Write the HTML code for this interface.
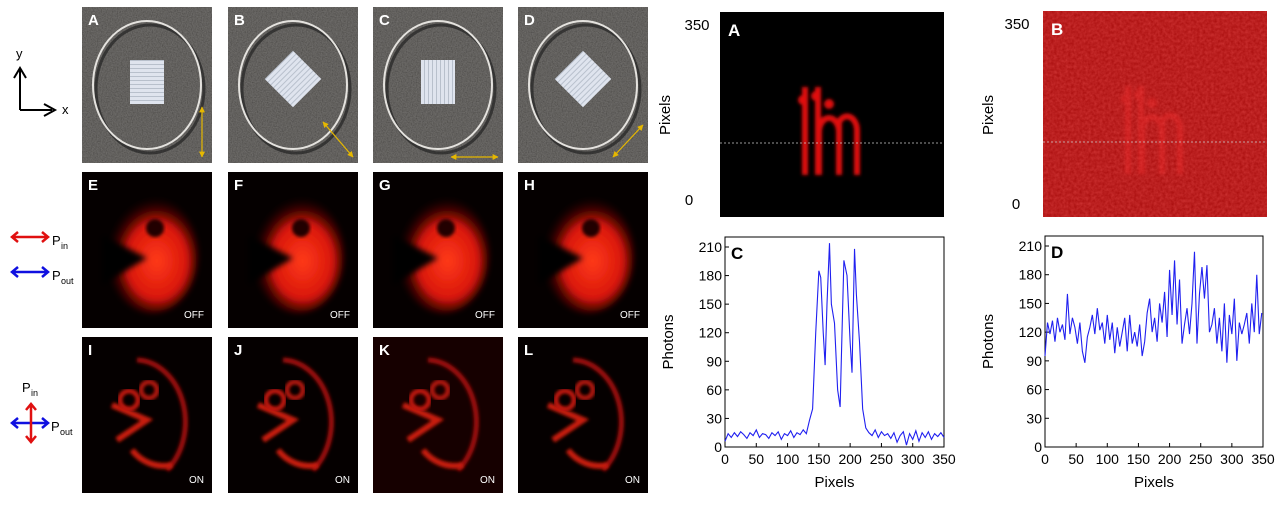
<!DOCTYPE html>
<html><head><meta charset="utf-8"><style>
body{margin:0;background:#fff;width:1281px;height:502px;overflow:hidden;font-family:"Liberation Sans",sans-serif}
svg text{font-family:"Liberation Sans",sans-serif}
</style></head><body>
<svg id="fig" width="1281" height="502" viewBox="0 0 1281 502" xmlns="http://www.w3.org/2000/svg">
<defs>
<filter id="noise" x="0" y="0" width="100%" height="100%"><feTurbulence type="fractalNoise" baseFrequency="0.8" numOctaves="2" seed="3"/><feColorMatrix type="matrix" values="0.5 0 0 0 0 0.5 0 0 0 0 0.5 0 0 0 0 0 0 0 0 0.35"/></filter>
<filter id="rnoise" x="0" y="0" width="100%" height="100%"><feTurbulence type="fractalNoise" baseFrequency="0.35" numOctaves="2" seed="7"/><feColorMatrix type="matrix" values="0 0 0 0 0.9 0 0 0 0 0.1 0 0 0 0 0.1 0 0 0 0.5 0"/></filter>
<filter id="blur3"><feGaussianBlur stdDeviation="3"/></filter>
<filter id="blur1"><feGaussianBlur stdDeviation="1.5"/></filter>
<radialGradient id="pac" cx="0.55" cy="0.55" r="0.55"><stop offset="0" stop-color="#ff3a1a"/><stop offset="0.6" stop-color="#d8160a"/><stop offset="1" stop-color="#300000" stop-opacity="0"/></radialGradient>
<pattern id="stripesH" width="4" height="4" patternUnits="userSpaceOnUse"><rect width="4" height="4" fill="#dfe4ee"/><rect width="4" height="1" fill="#b8c0cc"/></pattern>
<pattern id="stripesV" width="4" height="4" patternUnits="userSpaceOnUse"><rect width="4" height="4" fill="#dfe4ee"/><rect width="1" height="4" fill="#b8c0cc"/></pattern>
<marker id="ya" viewBox="0 0 10 10" refX="9" refY="5" markerWidth="5" markerHeight="5" orient="auto-start-reverse"><path d="M0 0 L10 5 L0 10 Z" fill="#e6b800"/></marker>
</defs>
<g id="left"></g>
<g id="right"></g>
</svg>
<script>
const NS='http://www.w3.org/2000/svg';
const cX=[0,5,10,15,20,25,30,35,40,45,50,55,60,65,70,75,80,85,90,95,100,105,110,115,120,125,130,135,140,145,150,153,157,160,163,167,170,175,180,184,187,190,195,200,203,207,210,215,220,225,230,235,240,245,250,255,260,265,270,275,280,285,290,295,300,305,310,315,320,325,330,335,340,345,350];
const cY=[6,14,10,15,11,16,13,9,15,12,18,10,14,13,9,15,12,16,8,14,12,17,10,15,13,18,14,28,40,120,185,178,120,86,150,214,150,130,60,42,120,196,180,110,78,208,160,110,40,20,15,12,18,10,16,12,14,9,15,5,12,16,2,14,8,17,6,15,10,16,8,14,11,15,10];
const dX=[];for(let i=0;i<=350;i+=4)dX.push(i);
const dY=[95,130,118,132,110,135,120,128,112,160,118,135,125,108,130,100,88,115,125,138,118,145,122,130,108,138,112,130,98,125,105,120,135,100,138,108,120,105,128,95,110,140,155,120,135,110,150,130,162,115,185,138,195,128,175,108,128,145,118,150,204,108,160,188,155,190,120,128,145,108,135,100,150,88,138,118,155,90,130,118,128,140,108,150,120,180,118,140,108];
const xTicks=[0,50,100,150,200,250,300,350];
const yTicks=[0,30,60,90,120,150,180,210];
const panelLetters=['A','B','C','D','E','F','G','H','I','J','K','L'];
const L=document.getElementById('left'),R=document.getElementById('right');
function el(p,t,a,txt){const e=document.createElementNS(NS,t);for(const k in a)e.setAttribute(k,a[k]);if(txt!==undefined)e.textContent=txt;p.appendChild(e);return e;}

const colX=[82,228,373,518],rowY=[7,172,337],pw=130,ph=156;
const rots=[0,45,0,45],sq=['stripesH','stripesV','stripesV','stripesV'];
const arrows=[[120,100,120,150],[95,115,125,150],[78,150,125,150],[95,150,125,118]];
for(let r=0;r<3;r++)for(let c=0;c<4;c++){
 const x=colX[c],y=rowY[r];
 const g=el(L,'g',{});
 
 
 const cx=x+pw/2,cy=y+ph/2;
 if(r===0){
  el(g,'rect',{x,y,width:pw,height:ph,fill:'#4e4b47'});
  el(g,'rect',{x,y,width:pw,height:ph,filter:'url(#noise)'});
  el(g,'ellipse',{cx:cx+3,cy:cy+4,rx:54,ry:64,fill:'none',stroke:'#222','stroke-width':3,opacity:.7});
  el(g,'ellipse',{cx:cx,cy:cy,rx:54,ry:64,fill:'none',stroke:'#e4e2de','stroke-width':2});
  if(rots[c]===0) el(g,'rect',{x:cx-17,y:cy-25,width:34,height:44,fill:'url(#'+sq[c]+')'});
  else el(g,'rect',{x:-20,y:-20,width:40,height:40,fill:'url(#'+sq[c]+')',transform:`translate(${cx},${cy-6}) rotate(45)`});
  const a=arrows[c];
  el(g,'line',{x1:x+a[0],y1:y+a[1],x2:x+a[2],y2:y+a[3],stroke:'#e6b800','stroke-width':1.2,'marker-start':'url(#ya)','marker-end':'url(#ya)'});
 } else {
  el(g,'rect',{x,y,width:pw,height:ph,fill:r===2&&c===2?'#160000':'#050000'});
  if(r===1){
   el(g,'ellipse',{cx:cx+5,cy:cy+5,rx:46,ry:58,fill:'url(#pac)',filter:'url(#blur3)'});
   el(g,'path',{d:`M${cx-45} ${cy-15} L${cx} ${cy+8} L${cx-45} ${cy+35} Z`,fill:'#050000',filter:'url(#blur3)'});
   el(g,'circle',{cx:cx+8,cy:cy-22,r:9,fill:'#200000',filter:'url(#blur1)'});
   el(g,'text',{x:x+pw-8,y:y+ph-10,'text-anchor':'end',fill:'#fff','font-size':10},'OFF');
  } else {
   el(g,'path',{d:`M${cx-10} ${cy-55} A50 62 0 0 1 ${cx+20} ${cy+55}`,fill:'none',stroke:'#a01008','stroke-width':5,filter:'url(#blur1)'});
   el(g,'path',{d:`M${cx-35} ${cy-10} L${cx} ${cy+5} L${cx-30} ${cy+25} M${cx-15} ${cy+35} A40 40 0 0 0 ${cx+25} ${cy+50}`,fill:'none',stroke:'#c81a0c','stroke-width':6,filter:'url(#blur1)'});
   el(g,'circle',{cx:cx-18,cy:cy-15,r:9,fill:'none',stroke:'#c01408','stroke-width':5,filter:'url(#blur1)'});
   el(g,'circle',{cx:cx+2,cy:cy-25,r:8,fill:'none',stroke:'#b01208','stroke-width':5,filter:'url(#blur1)'});
   el(g,'text',{x:x+pw-8,y:y+ph-10,'text-anchor':'end',fill:'#fff','font-size':10},'ON');
  }
 }
 const t=el(g,'text',{x:x+6,y:y+18,fill:'#fff','font-size':15,'font-weight':'bold'},panelLetters[r*4+c]);
 
 
}
const ax=el(L,'g',{});


el(ax,'path',{d:'M20 110 V70 M14 78 L20 68 L26 78 M20 110 H52 M44 104 L55 110 L44 116',fill:'none',stroke:'#000','stroke-width':2});
el(ax,'text',{x:16,y:58,'font-size':13},'y');
el(ax,'text',{x:62,y:114,'font-size':13},'x');
function harrow(g,x,y,col){el(g,'path',{d:`M${x} ${y} H${x+36} M${x+6} ${y-5} L${x} ${y} L${x+6} ${y+5} M${x+30} ${y-5} L${x+36} ${y} L${x+30} ${y+5}`,fill:'none',stroke:col,'stroke-width':2.5});}
const pl=el(L,'g',{});


harrow(pl,12,237,'#e01010');harrow(pl,12,272,'#1010e0');
el(pl,'text',{x:52,y:245,'font-size':13},'P');el(pl,'text',{x:61,y:249,'font-size':9},'in');
el(pl,'text',{x:52,y:280,'font-size':13},'P');el(pl,'text',{x:61,y:284,'font-size':9},'out');
harrow(pl,12,423,'#1010e0');
el(pl,'path',{d:'M31 404 V442 M26 410 L31 404 L36 410 M26 436 L31 442 L36 436',fill:'none',stroke:'#e01010','stroke-width':2.5});
el(pl,'text',{x:22,y:392,'font-size':13},'P');el(pl,'text',{x:31,y:396,'font-size':9},'in');
el(pl,'text',{x:51,y:431,'font-size':13},'P');el(pl,'text',{x:60,y:435,'font-size':9},'out');

function heat(x,y,w,h,letter,bright){
 const g=el(R,'g',{});
 
 
 el(g,'rect',{x,y,width:w,height:h,fill:bright?'#a80c0c':'#000'});
 if(bright)el(g,'rect',{x,y,width:w,height:h,filter:'url(#rnoise)'});
 const cx=x+w*0.5;
 const col=bright?'#ff3030':'#e01010',op=bright?0.35:1;
 const s=el(g,'g',{opacity:op,filter:'url(#blur1)'});
 el(s,'rect',{x:cx-30,y:y+75,width:6,height:88,fill:col});
 el(s,'rect',{x:cx-17,y:y+75,width:6,height:88,fill:col});
 el(s,'path',{d:`M${cx-13} ${y+163} V${y+120} A10 14 0 0 1 ${cx+7} ${y+120} V${y+163} M${cx+7} ${y+120} V${y+110} A10 14 0 0 1 ${cx+25} ${y+118} V${y+163}`,fill:'none',stroke:col,'stroke-width':6});
 el(s,'circle',{cx:cx-29,cy:y+88,r:5,fill:col});el(s,'circle',{cx:cx-16,cy:y+84,r:5,fill:col});el(s,'circle',{cx:cx-3,cy:y+92,r:5,fill:col});
 el(g,'line',{x1:x,y1:y+131,x2:x+w,y2:y+131,stroke:'#ccc','stroke-width':0.8,'stroke-dasharray':'2,2'});
 el(g,'text',{x:x+8,y:y+24,fill:'#fff','font-size':17,'font-weight':'bold'},letter);
}
heat(720,12,224,205,'A',false);
heat(1043,11,224,206,'B',true);
function ltxt(x,y,t,rot){return el(R,'text',{x,y,'font-size':15,'text-anchor':'middle',transform:rot?`rotate(-90 ${x} ${y})`:''},t);}
ltxt(697,30,'350');ltxt(689,205,'0');ltxt(1017,29,'350');ltxt(1016,209,'0');
ltxt(670,115,'Pixels',true);ltxt(993,115,'Pixels',true);

function chart(bx,by,bw,bh,xs,ys,letter){
 const g=el(R,'g',{});
 
 
 const sx=v=>bx+v/350*bw, sy=v=>by+bh-v/210*(bh-10);
 el(g,'rect',{x:bx,y:by,width:bw,height:bh,fill:'#fff',stroke:'#000','stroke-width':1});
 xTicks.forEach(t=>{el(g,'line',{x1:sx(t),y1:by+bh,x2:sx(t),y2:by+bh-4,stroke:'#000'});
  const lt=el(g,'text',{x:sx(t),y:by+bh+17,'font-size':14,'text-anchor':'middle'},t);
  
  });
 yTicks.forEach(t=>{el(g,'line',{x1:bx,y1:sy(t),x2:bx+4,y2:sy(t),stroke:'#000'});
  const lt=el(g,'text',{x:bx-3,y:sy(t)+5,'font-size':14,'text-anchor':'end'},t);
  
  });
 const p=el(g,'polyline',{points:xs.map((x,i)=>sx(x)+','+sy(ys[i])).join(' '),fill:'none',stroke:'#2020f0','stroke-width':1.1});
 
 
 el(g,'text',{x:bx+6,y:by+22,'font-size':17,'font-weight':'bold'},letter);
 const xt=el(g,'text',{x:bx+bw/2,y:by+bh+40,'font-size':15,'text-anchor':'middle'},'Pixels');
 
 
 const yx=bx-52,yy=by+bh/2;
 const yt=el(g,'text',{x:yx,y:yy,'font-size':15,'text-anchor':'middle',transform:`rotate(-90 ${yx} ${yy})`},'Photons');
 
 
}
chart(725,237,219,210,cX,cY,'C');
chart(1045,236,218,211,dX,dY,'D');
</script>
</body></html>
